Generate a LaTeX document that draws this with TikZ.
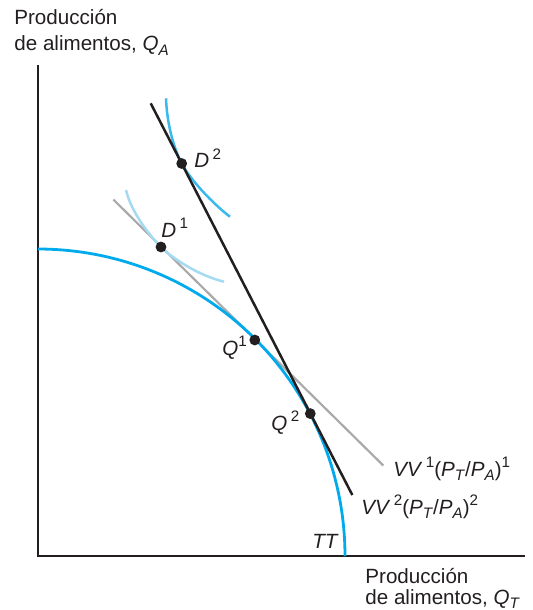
\documentclass[tikz,border=0pt]{standalone}
\usepackage{fontspec}
\setmainfont{Liberation Sans}
\definecolor{ttblue}{RGB}{0,170,236}
\definecolor{dtwoblue}{RGB}{60,185,235}
\definecolor{donelight}{RGB}{165,218,243}
\definecolor{budgetgray}{RGB}{170,170,170}
\definecolor{inkblack}{RGB}{35,31,32}
\newcommand\mysup[1]{\raisebox{0.8ex}{\fontsize{7.6}{8}\selectfont #1}}
\newcommand\mysub[1]{\raisebox{-0.45ex}{\fontsize{7.6}{8}\selectfont #1}}
\begin{document}
\begin{tikzpicture}[x=0.5pt,y=-0.5pt,
  lbl/.style={font=\fontsize{10.3}{13}\selectfont, inner sep=0pt, anchor=base west, text=inkblack},
  dot/.style={circle, fill=inkblack, inner sep=0pt, minimum size=5.4pt},
  axisline/.style={line width=1.35pt, draw=inkblack},
  ttcurve/.style={line width=1.4pt, draw=ttblue},
  blackline/.style={line width=1.25pt, draw=inkblack},
  grayline/.style={line width=1.1pt, draw=budgetgray},
  indiff/.style={line width=1.25pt}]
\useasboundingbox (0,0) rectangle (532,610);

% axes
\coordinate (ytop) at (38,65);
\coordinate (origin) at (38,556);
\coordinate (xend) at (525,556);
\draw[axisline] (ytop) -- (origin) -- (xend);

% budget lines endpoints
\coordinate (g1) at (113.3,199.5);
\coordinate (g2) at (383.3,465.5);
\coordinate (b1) at (150.7,103.3);
\coordinate (b2) at (352.3,495);

\draw[grayline] (g1) -- (g2);

% transformation curve TT
\draw[ttcurve] plot[domain=90:0, samples=80, smooth] ({38+307*cos(\x)},{556-307*sin(\x)});

% indifference curves
\coordinate (D1p) at (161,247);
\coordinate (D2p) at (181.7,163.5);
\draw[indiff, donelight] (126,190) .. controls (131,212) and (150,236) .. (D1p)
  .. controls (173,259) and (200,276) .. (224,281.7);
\draw[indiff, dtwoblue] (166,98.3) .. controls (167,125) and (173.9,148.3) .. (D2p)
  .. controls (189.5,178.7) and (213,204) .. (230,216.7);

\draw[blackline] (b1) -- (b2);

% points
\node[dot] (D2) at (D2p) {};
\node[dot] (D1) at (D1p) {};
\node[dot] (Q1) at (254.8,340) {};
\node[dot] (Q2) at (310.3,413.6) {};

% labels
\node[lbl] (ya1) at (14,25) {Producción};
\node[lbl] (ya2) at (14,51) {de alimentos, \textit{Q}\mysub{\textit{A}}};
\node[lbl] (xa1) at (365,583) {Producción};
\node[lbl] (xa2) at (365,604) {de alimentos, \textit{Q}\mysub{\textit{T}}};
\node[lbl] (D2l) at (194,168) {\textit{D}\,\mysup{2}};
\node[lbl] (D1l) at (161,237) {\textit{D}\,\mysup{1}};
\node[lbl] (Q1l) at (222,355) {\textit{Q}\mysup{1}};
\node[lbl] (Q2l) at (271,430) {\textit{Q}\,\mysup{2}};
\node[lbl] (VV1l) at (393,476) {\textit{VV}\,\mysup{1}(\textit{P}\mysub{\textit{T}}/\textit{P}\mysub{\textit{A}})\mysup{1}};
\node[lbl] (VV2l) at (361,514) {\textit{VV}\,\mysup{2}(\textit{P}\mysub{\textit{T}}/\textit{P}\mysub{\textit{A}})\mysup{2}};
\node[lbl] (TTl) at (312,548) {\textit{TT}};
\end{tikzpicture}
\end{document}
